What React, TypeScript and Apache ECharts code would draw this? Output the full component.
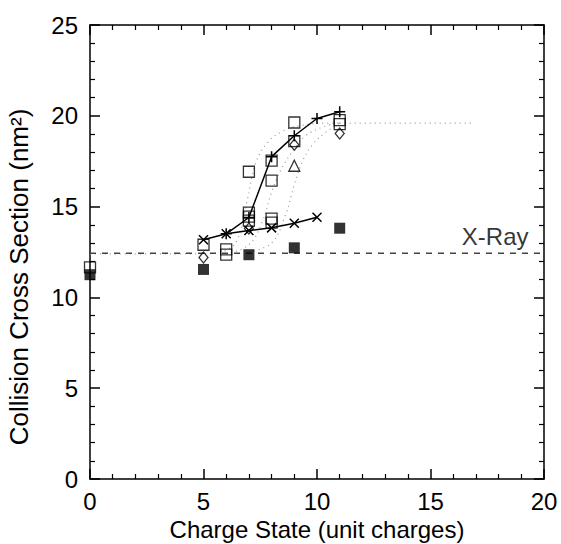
import React, { useEffect, useRef } from "react";
import * as echarts from "echarts";

// Axis ranges / ticks
const xRange = [0, 20];
const yRange = [0, 25];
const tickStep = 5;

// Measured points: [charge state, cross section nm^2]
const filledSquares = [[0, 11.25], [5, 11.54], [7, 12.35], [9, 12.73], [11, 13.81]];
const openSquares = [
  [0, 11.65], [5, 12.9], [6, 12.64], [6, 12.36],
  [7, 16.92], [7, 14.67], [7, 14.45], [7, 14.23],
  [8, 17.53], [8, 16.43], [8, 14.34], [8, 14.12],
  [9, 19.63], [9, 18.6], [11, 19.76], [11, 19.54],
];
const diamonds = [[5, 12.2], [7, 13.8], [9, 18.4], [11, 19.03]];
const triangles = [[9, 17.25]];
const crossLine = [[5, 13.17], [6, 13.5], [7, 13.68], [8, 13.83], [9, 14.08], [10, 14.41]];
const plusLine = [[6, 13.5], [7, 14.4], [8, 17.75], [9, 18.9], [10, 19.85], [11, 20.22]];

// Dotted fit curves
const fitA = [[0, 12.4], [5, 12.4], [6, 12.6], [6.5, 13.2], [6.9, 15.2], [7.3, 17.4], [7.8, 18.5], [8.4, 19.1], [9.2, 19.45], [10.5, 19.6], [11, 19.6]];
const fitB = [[6, 12.4], [7, 12.9], [7.6, 14.2], [8.0, 15.8], [8.4, 17.0], [8.9, 18.0], [9.5, 18.9], [10.3, 19.4], [11, 19.6]];
const fitC = [[7, 12.5], [8, 13.0], [8.6, 14.5], [9.0, 16.2], [9.4, 17.6], [9.8, 18.4], [10.4, 19.1], [11, 19.6]];
const fitTail = [[11, 19.6], [16.8, 19.6]];

// X-ray reference
const xRayValue = 12.43;
const xRayLine = [[xRange[0], xRayValue], [xRange[1], xRayValue]];
const xRayLabelPos = [[17.85, 13.35]];
const xRayText = "X-Ray";

const xTitle = "Charge State (unit charges)";
const yTitle = "Collision Cross Section (nm²)";

const FONT = "Liberation Sans, Arial, Helvetica, sans-serif";
const FS = 24;
const X_SYM = "path://M0,0L10,10M10,0L0,10";
const PLUS_SYM = "path://M5,0L5,10M0,5L10,5";

export default function App() {
  const ref = useRef<HTMLDivElement>(null);
  useEffect(() => {
    if (!ref.current) return;
    const chart = echarts.init(ref.current, null, { renderer: "svg" });
    const axisCommon = {
      axisLine: { show: true, onZero: false, lineStyle: { color: "#000", width: 1.5 } },
      axisTick: { show: true, inside: true, length: 10, lineStyle: { color: "#000", width: 1.5 } },
      minorTick: { show: true, splitNumber: 5, length: 5, lineStyle: { color: "#000", width: 1.2 } },
      splitLine: { show: false },
      minorSplitLine: { show: false },
    };
    const hollow = { color: "rgba(0,0,0,0)", borderColor: "#000", borderWidth: 1.3 };
    const fitStyle = { color: "#9a9a9a", width: 1.2, type: [1, 4] as any };
    const dotted = (data: number[][]) => ({
      type: "line", data, smooth: 0.4, symbol: "none", z: 1,
      lineStyle: fitStyle, silent: true,
    });
    chart.setOption({
      animation: false,
      backgroundColor: "#fff",
      grid: { left: 90, right: 17, top: 25, bottom: 65, containLabel: false, outerBoundsMode: "none" },
      xAxis: [
        {
          type: "value", min: xRange[0], max: xRange[1], interval: tickStep, position: "bottom",
          ...axisCommon,
          axisLabel: { fontSize: FS, color: "#000", fontFamily: FONT, margin: 10 },
          name: xTitle, nameLocation: "middle", nameGap: 38,
          nameTextStyle: { fontSize: FS, color: "#000", fontFamily: FONT },
        },
        {
          type: "value", min: xRange[0], max: xRange[1], interval: tickStep, position: "top",
          ...axisCommon, axisLabel: { show: false },
        },
      ],
      yAxis: [
        {
          type: "value", min: yRange[0], max: yRange[1], interval: tickStep, position: "left",
          ...axisCommon,
          axisLabel: { fontSize: FS, color: "#000", fontFamily: FONT, margin: 12 },
          name: yTitle, nameLocation: "middle", nameGap: 58,
          nameTextStyle: { fontSize: 26, color: "#000", fontFamily: FONT, padding: [0, 50, 0, 0] },
        },
        {
          type: "value", min: yRange[0], max: yRange[1], interval: tickStep, position: "right",
          ...axisCommon, axisLabel: { show: false },
        },
      ],
      series: [
        dotted(fitA),
        dotted(fitB),
        dotted(fitC),
        { ...dotted(fitTail), smooth: false },
        {
          type: "line", data: xRayLine, symbol: "none", z: 2,
          lineStyle: { color: "#444", width: 1.3, type: [6, 6] },
        },
        {
          type: "line", data: crossLine, symbol: X_SYM, symbolSize: 9, z: 3,
          lineStyle: { color: "#000", width: 1.5 },
          itemStyle: { color: "#000", borderColor: "#000", borderWidth: 1.5 },
        },
        {
          type: "line", data: plusLine, symbol: PLUS_SYM, symbolSize: 11, z: 3,
          lineStyle: { color: "#000", width: 1.5 },
          itemStyle: { color: "#000", borderColor: "#000", borderWidth: 1.5 },
        },
        { type: "scatter", data: openSquares, symbol: "rect", symbolSize: 11, itemStyle: hollow, z: 4 },
        { type: "scatter", data: diamonds, symbol: "diamond", symbolSize: [9, 11], itemStyle: hollow, z: 4 },
        { type: "scatter", data: triangles, symbol: "triangle", symbolSize: [11, 11], itemStyle: hollow, z: 4 },
        { type: "scatter", data: filledSquares, symbol: "rect", symbolSize: 11, itemStyle: { color: "#000" }, z: 5 },
        {
          type: "scatter", data: xRayLabelPos, symbolSize: 0, z: 6,
          label: {
            show: true, position: "inside", formatter: xRayText,
            fontSize: FS, color: "#000", fontFamily: FONT,
          },
        },
      ],
    });
    return () => chart.dispose();
  }, []);
  return (
    <div
      ref={ref}
      style={{ position: "fixed", left: 0, top: 0, width: 561, height: 544, background: "#fff" }}
    />
  );
}
